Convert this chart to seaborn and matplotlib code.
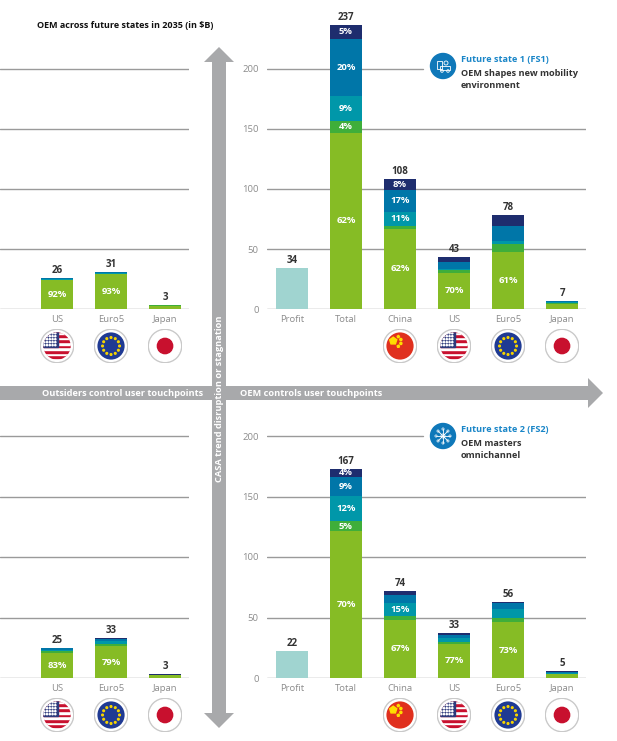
import numpy as np
import pandas as pd
import seaborn as sns
import matplotlib.pyplot as plt
from matplotlib.patches import Circle, Rectangle, Polygon, RegularPolygon

sns.set_theme(style="white")
plt.rcParams['font.family'] = ['Open Sans', 'DejaVu Sans']

# ---------------- data (in $B, shares in %) ----------------
right_cats = ["Profit", "Total", "China", "US", "Euro5", "Japan"]
left_cats = ["US", "Euro5", "Japan"]

# future state 1 (top right)
fs1_heights = [34, 237, 108, 43, 78, 7]
fs1_labels = ["34", "237", "108", "43", "78", "7"]
fs1_profit = [100, 0, 0, 0, 0, 0]
fs1_green = [0, 62, 62, 70, 61, 55]
fs1_green2 = [0, 4, 2, 5, 8, 20]
fs1_teal = [0, 9, 11, 3, 4, 3]
fs1_blue = [0, 20, 17, 14, 16, 14]
fs1_navy = [0, 5, 8, 8, 11, 8]
fs1_shown = {"Total": ["green", "green2", "teal", "blue", "navy"],
             "China": ["green", "teal", "blue", "navy"],
             "US": ["green"], "Euro5": ["green"]}

# future state 2 (bottom right)
fs2_heights = [22, 173, 72, 37, 63, 5.5]
fs2_labels = ["22", "167", "74", "33", "56", "5"]
fs2_profit = [100, 0, 0, 0, 0, 0]
fs2_green = [0, 70, 67, 77, 73, 60]
fs2_green2 = [0, 5, 4, 4, 6, 5]
fs2_teal = [0, 12, 15, 9, 12, 10]
fs2_blue = [0, 9, 9, 6, 7, 10]
fs2_navy = [0, 4, 5, 4, 2, 15]
fs2_shown = {"Total": ["green", "green2", "teal", "blue", "navy"],
             "China": ["green", "teal"],
             "US": ["green"], "Euro5": ["green"]}

# outsiders control touchpoints (top left)
lt_heights = [26, 31, 3]
lt_labels = ["26", "31", "3"]
lt_green = [92, 93, 85]
lt_green2 = [2, 1, 15]
lt_teal = [3, 3, 0]
lt_blue = [3, 2, 0]
lt_navy = [0, 1, 0]
lt_shown = {"US": ["green"], "Euro5": ["green"]}

# outsiders control touchpoints (bottom left)
lb_heights = [25, 33, 3]
lb_labels = ["25", "33", "3"]
lb_green = [83, 79, 80]
lb_green2 = [6, 5, 0]
lb_teal = [5, 8, 10]
lb_blue = [4, 5, 0]
lb_navy = [2, 3, 10]
lb_shown = {"US": ["green"], "Euro5": ["green"]}

flags = {"China": "cn", "US": "us", "Euro5": "eu", "Japan": "jp"}

# ---------------- style ----------------
colors = {"profit": "#A0D4D0", "green": "#86BC25", "green2": "#3FAE3A",
          "teal": "#0097A9", "blue": "#0076A8", "navy": "#1E2D6E"}
seg_order = ["profit", "green", "green2", "teal", "blue", "navy"]
GRID = "#9a9a9a"
ARROW = "#A8A9AB"
W, H = 617, 741

fig = plt.figure(figsize=(W / 100, H / 100), dpi=100)


def px_axes(x0, x1, y_base, px_per_unit, ymax=245):
    """axes whose 0 line sits at pixel row y_base (top-origin)"""
    h = ymax * px_per_unit
    ax = fig.add_axes([x0 / W, (H - y_base) / H, (x1 - x0) / W, h / H])
    ax.set_facecolor("none")
    return ax


def draw_panel(ax, cats, heights, parts, labels, shown, xlim, ticklabels,
               cut200=None):
    heights = np.array(heights, dtype=float)
    bottoms, tops = {}, {}
    cum = np.zeros(len(cats))
    for seg in seg_order:
        share = np.array(parts.get(seg, [0] * len(cats)), dtype=float)
        bottoms[seg] = cum.copy()
        cum = cum + heights * share / 100
        tops[seg] = cum.copy()
    # draw cumulative layers from the top down so lower ones cover them
    for seg in reversed(seg_order):
        df = pd.DataFrame({"cat": cats, "val": tops[seg]})
        sns.barplot(data=df, x="cat", y="val", order=cats, color=colors[seg],
                    width=0.58, saturation=1, errorbar=None, linewidth=0,
                    ax=ax, zorder=2)
    for i, c in enumerate(cats):
        ax.annotate(labels[i], (i, heights[i]), xytext=(0, 1.5),
                    textcoords="offset points", ha="center", va="bottom",
                    fontsize=7, fontweight="bold", color="#333333")
        for seg in shown.get(c, []):
            share = parts[seg][i]
            ax.text(i, (bottoms[seg][i] + tops[seg][i]) / 2, f"{share}%",
                    ha="center", va="center", fontsize=6.8,
                    fontweight="bold", color="white", zorder=3)
    ax.set_xlim(*xlim)
    ax.set_ylim(0, 245)
    for v in [0, 50, 100, 150, 200]:
        xmax = cut200 if (v == 200 and cut200) else 1
        ax.axhline(v, xmax=xmax, color=GRID, lw=1, zorder=1)
    ax.set_yticks([0, 50, 100, 150, 200])
    if ticklabels:
        ax.set_yticklabels(["0", "50", "100", "150", "200"])
    else:
        ax.set_yticklabels([])
    ax.set_xticks(range(len(cats)))
    ax.set_xticklabels(cats)
    ax.tick_params(length=0, labelsize=6.8, colors="#8c8c8c", pad=4)
    ax.tick_params(axis="y", pad=6)
    ax.set_xlabel("")
    ax.set_ylabel("")
    sns.despine(ax=ax, left=True, bottom=True)
    ax.grid(False)


def draw_flag(ax, i, kind, drop=37, r=17):
    x, y = ax.transData.transform((i, 0))
    fa = fig.add_axes([(x - r) / W, (y - drop - r) / H, 2 * r / W, 2 * r / H])
    fa.set_xlim(-1, 1)
    fa.set_ylim(-1, 1)
    fa.axis("off")
    fa.add_patch(Circle((0, 0), 0.98, color="#c9c9c9"))
    fa.add_patch(Circle((0, 0), 0.9, color="white"))
    clip = Circle((0, 0), 0.8, transform=fa.transData)
    arts = []
    if kind == "us":
        for k in range(13):
            arts.append(fa.add_patch(Rectangle((-1, -1 + k * 2 / 13), 2, 2 / 13,
                        color="#C8102E" if k % 2 == 0 else "white")))
        arts.append(fa.add_patch(Rectangle((-1, -0.08), 1.05, 1.1, color="#2E3A7C")))
        for sx in np.linspace(-0.75, -0.1, 5):
            for sy in np.linspace(0.05, 0.75, 5):
                arts.append(fa.add_patch(Circle((sx, sy), 0.035, color="white")))
    elif kind == "eu":
        arts.append(fa.add_patch(Rectangle((-1, -1), 2, 2, color="#1F3A93")))
        for a in np.linspace(0, 2 * np.pi, 13)[:-1]:
            arts.append(fa.add_patch(Circle((0.5 * np.cos(a), 0.5 * np.sin(a)),
                                            0.05, color="#F5D300")))
    elif kind == "jp":
        arts.append(fa.add_patch(Circle((0, 0), 0.45, color="#C8102E")))
    elif kind == "cn":
        arts.append(fa.add_patch(Rectangle((-1, -1), 2, 2, color="#E0301E")))
        arts.append(fa.add_patch(RegularPolygon((-0.4, 0.3), 5, radius=0.22,
                                                color="#FFDE00")))
        for sx, sy in [(-0.1, 0.55), (0.05, 0.38), (0.05, 0.15), (-0.1, -0.02)]:
            arts.append(fa.add_patch(RegularPolygon((sx, sy), 5, radius=0.07,
                                                    color="#FFDE00")))
    for a in arts:
        a.set_clip_path(clip)


# ---------------- panels ----------------
ax_tl = px_axes(0, 189, 309, 1.2)
draw_panel(ax_tl, left_cats, lt_heights,
           {"green": lt_green, "green2": lt_green2, "teal": lt_teal,
            "blue": lt_blue, "navy": lt_navy},
           lt_labels, lt_shown, (-1.056, 2.444), False)

ax_tr = px_axes(267, 586, 309, 1.2)
draw_panel(ax_tr, right_cats, fs1_heights,
           {"profit": fs1_profit, "green": fs1_green, "green2": fs1_green2,
            "teal": fs1_teal, "blue": fs1_blue, "navy": fs1_navy},
           fs1_labels, fs1_shown, (-0.463, 5.444), True, cut200=0.49)

ax_bl = px_axes(0, 189, 678, 1.21)
draw_panel(ax_bl, left_cats, lb_heights,
           {"green": lb_green, "green2": lb_green2, "teal": lb_teal,
            "blue": lb_blue, "navy": lb_navy},
           lb_labels, lb_shown, (-1.056, 2.444), False)

ax_br = px_axes(267, 586, 678, 1.21)
draw_panel(ax_br, right_cats, fs2_heights,
           {"profit": fs2_profit, "green": fs2_green, "green2": fs2_green2,
            "teal": fs2_teal, "blue": fs2_blue, "navy": fs2_navy},
           fs2_labels, fs2_shown, (-0.463, 5.444), True, cut200=0.49)

for ax, cats in [(ax_tl, left_cats), (ax_tr, right_cats),
                 (ax_bl, left_cats), (ax_br, right_cats)]:
    for i, c in enumerate(cats):
        if c in flags:
            draw_flag(ax, i, flags[c])

# ---------------- overlay: arrows, titles, legends ----------------
ov = fig.add_axes([0, 0, 1, 1])
ov.set_xlim(0, W)
ov.set_ylim(H, 0)
ov.axis("off")
ov.set_facecolor("none")

ov.add_patch(Polygon([(0, 386), (588, 386), (588, 378), (603, 393),
                      (588, 408), (588, 400), (0, 400)], color=ARROW, lw=0))
ov.add_patch(Polygon([(219, 47), (234, 62), (226, 62), (226, 713), (234, 713),
                      (219, 728), (204, 713), (212, 713), (212, 62), (204, 62)],
                     color=ARROW, lw=0))

txt = dict(fontsize=6.7, fontweight="bold", color="white", va="center")
ov.text(203, 393.5, "Outsiders control user touchpoints", ha="right", **txt)
ov.text(240, 393.5, "OEM controls user touchpoints", ha="left", **txt)
ov.text(219.5, 399, "CASA trend disruption or stagnation", ha="center",
        rotation=90, **txt)

ov.text(213, 26, "OEM across future states in 2035 (in $B)", ha="right",
        va="center", fontsize=6.5, fontweight="bold", color="#111111")


def legend_block(cx, cy, lines, kind):
    ov.add_patch(Circle((cx, cy), 12.5, color="#0F78B9"))
    if kind == "fs2":
        for a in np.linspace(0, np.pi, 5)[:-1]:
            dx, dy = 7 * np.cos(a), 7 * np.sin(a)
            ov.plot([cx - dx, cx + dx], [cy - dy, cy + dy], color="white", lw=0.6)
        for a in np.linspace(0, 2 * np.pi, 9)[:-1]:
            ov.add_patch(Circle((cx + 7 * np.cos(a), cy + 7 * np.sin(a)), 1.1,
                                fill=False, ec="white", lw=0.5))
        ov.add_patch(Circle((cx, cy), 2, fill=False, ec="white", lw=0.6))
    else:
        ov.add_patch(Rectangle((cx - 6, cy - 5), 5, 8, fill=False, ec="white", lw=0.6))
        ov.add_patch(Rectangle((cx - 3, cy), 10, 4, fill=False, ec="white", lw=0.6))
        ov.add_patch(Circle((cx + 3, cy - 3), 2, fill=False, ec="white", lw=0.6))
        ov.add_patch(Circle((cx - 1, cy + 5), 1.3, fill=False, ec="white", lw=0.6))
        ov.add_patch(Circle((cx + 5, cy + 5), 1.3, fill=False, ec="white", lw=0.6))
    for k, (s, col) in enumerate(lines):
        ov.text(cx + 18, cy - 6 + k * 13, s, ha="left", va="center",
                fontsize=6.6, fontweight="bold", color=col)


legend_block(443, 66, [("Future state 1 (FS1)", "#1A86C8"),
                       ("OEM shapes new mobility", "#333333"),
                       ("environment", "#333333")], "fs1")
legend_block(443, 436, [("Future state 2 (FS2)", "#1A86C8"),
                        ("OEM masters", "#333333"),
                        ("omnichannel", "#333333")], "fs2")

fig.savefig("out.png", dpi=100, facecolor="white")
